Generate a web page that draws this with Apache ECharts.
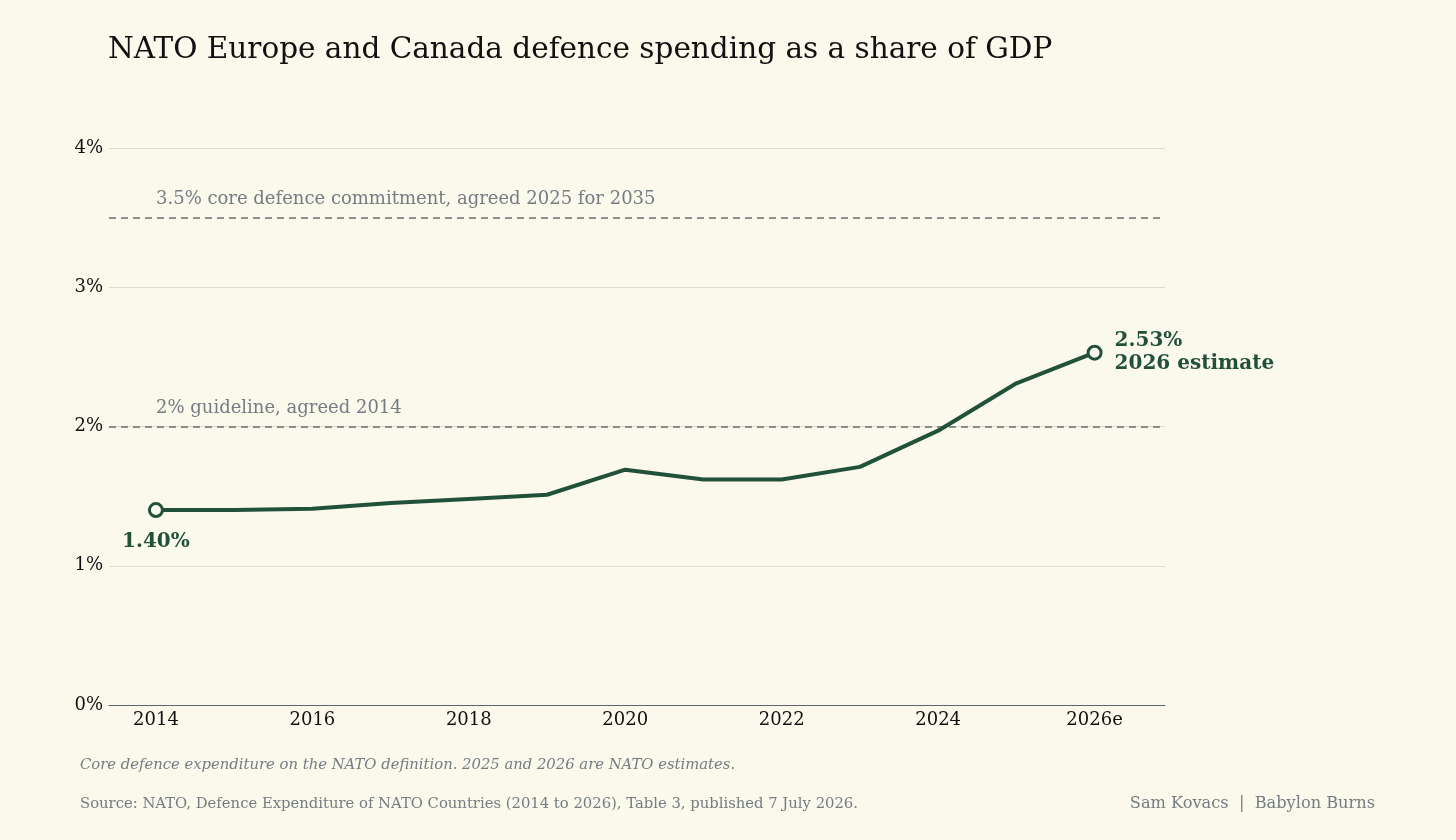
<!DOCTYPE html>
<html>
<head>
<meta charset="utf-8">
<script src="https://cdn.jsdelivr.net/npm/echarts@6/dist/echarts.min.js"></script>
<style>
html,body{margin:0;padding:0;background:#fbf9ec;}
#chart{width:1456px;height:840px;}
</style>
</head>
<body>
<div id="chart"></div>
<script>
const years = [2014,2015,2016,2017,2018,2019,2020,2021,2022,2023,2024,2025,2026];
const spending = [1.40,1.40,1.41,1.45,1.48,1.51,1.69,1.62,1.62,1.71,1.97,2.31,2.53];
const tickYears = [2014,2016,2018,2020,2022,2024,2026];
const estimateYear = 2026;
const refLines = [
  {value:3.5, text:'3.5% core defence commitment, agreed 2025 for 2035'},
  {value:2.0, text:'2% guideline, agreed 2014'}
];
const titleText = 'NATO Europe and Canada defence spending as a share of GDP';
const noteText = 'Core defence expenditure on the NATO definition. 2025 and 2026 are NATO estimates.';
const sourceText = 'Source: NATO, Defence Expenditure of NATO Countries (2014 to 2026), Table 3, published 7 July 2026.';
const creditText = 'Sam Kovacs  |  Babylon Burns';

const GREEN = '#22513a';
const GREY = '#737d82';
const BG = '#fbf9ec';
const FONT = '"DejaVu Serif", serif';

const lastIdx = years.length - 1;
const seriesData = years.map((y,i) => {
  const item = {value:[y, spending[i]]};
  if (i === 0 || i === lastIdx) {
    item.symbol = 'circle';
    item.symbolSize = 13;
    item.itemStyle = {color: BG, borderColor: GREEN, borderWidth: 3};
    item.label = i === 0 ? {
      show:true, position:'bottom', distance:14,
      formatter: p => p.value[1].toFixed(2) + '%',
      color: GREEN, fontFamily: FONT, fontWeight:'bold', fontSize:20
    } : {
      show:true, position:'right', distance:12, align:'left',
      formatter: p => p.value[1].toFixed(2) + '%\n' + p.value[0] + ' estimate',
      color: GREEN, fontFamily: FONT, fontWeight:'bold', fontSize:20, lineHeight:23
    };
  } else {
    item.symbol = 'none';
  }
  return item;
});

const chart = echarts.init(document.getElementById('chart'));
chart.setOption({
  backgroundColor: BG,
  animation: false,
  title: [
    {text: titleText, left: 108, top: 35, padding:0, textStyle:{fontFamily:FONT, fontSize:29.5, fontWeight:'normal', color:'#111'}},
    {text: noteText, left: 80, top: 758, padding:0, textStyle:{fontFamily:FONT, fontSize:14.8, fontStyle:'italic', fontWeight:'normal', color:GREY}},
    {text: sourceText, left: 80, top: 797, padding:0, textStyle:{fontFamily:FONT, fontSize:14.8, fontWeight:'normal', color:GREY}},
    {text: creditText, right: 81, top: 796, padding:0, textStyle:{fontFamily:FONT, fontSize:16.2, fontWeight:'normal', color:GREY}}
  ],
  grid: {left:109, right:291, top:148, bottom:135, containLabel:false},
  xAxis: {
    type:'value', min:2013.4, max:2026.9,
    axisLine:{show:true, lineStyle:{color:'#5d6670', width:1.2}},
    axisTick:{show:false},
    splitLine:{show:false},
    axisLabel:{
      customValues: tickYears,
      formatter: v => v === estimateYear ? v + 'e' : String(v),
      color:'#111', fontFamily:FONT, fontSize:18, margin:6
    }
  },
  yAxis: {
    type:'value', min:0, max:4, interval:1,
    axisLine:{show:false}, axisTick:{show:false},
    splitLine:{lineStyle:{color:'#dedcd0', width:1}},
    axisLabel:{formatter: v => v + '%', color:'#111', fontFamily:FONT, fontSize:18, margin:6}
  },
  series: [{
    type:'line',
    data: seriesData,
    showSymbol:true,
    lineStyle:{color:GREEN, width:4},
    itemStyle:{color:GREEN},
    z:5,
    markLine:{
      silent:true,
      symbol:['none','none'],
      lineStyle:{color:'#6b6e70', type:[7,5], width:1.5},
      label:{
        show:true, position:'insideStartTop', distance:[47,9],
        formatter: p => p.data.name,
        color:GREY, fontFamily:FONT, fontSize:18
      },
      data: refLines.map(r => ({yAxis:r.value, name:r.text}))
    }
  }]
});
</script>
</body>
</html>
